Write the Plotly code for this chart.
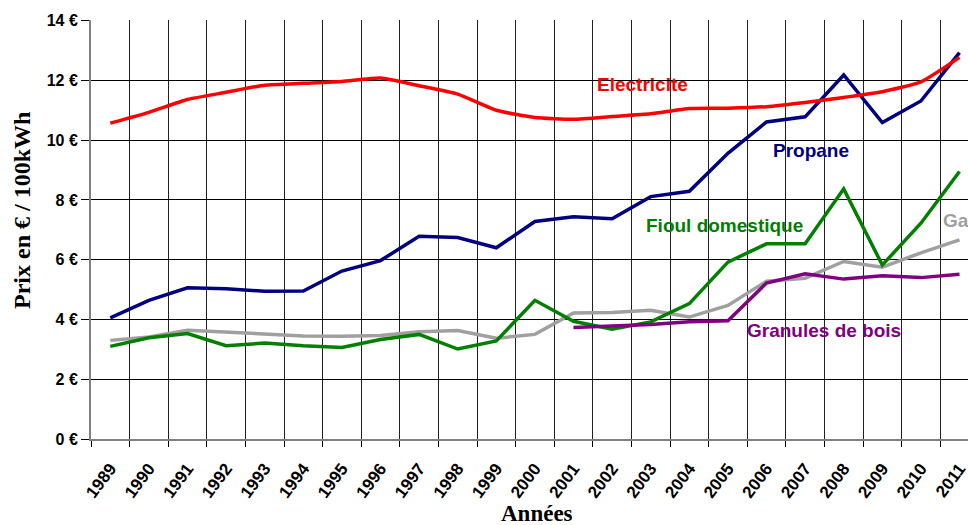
import plotly.graph_objects as go

years = list(range(1989, 2012))
electricite = [10.57, 10.93, 11.36, 11.60, 11.84, 11.90, 11.96, 12.08, 11.82, 11.54, 11.00, 10.76,
               10.70, 10.79, 10.88, 11.06, 11.07, 11.12, 11.26, 11.43, 11.62, 11.95, 12.77]
propane = [4.05, 4.64, 5.06, 5.03, 4.94, 4.95, 5.62, 5.97, 6.78, 6.74, 6.40, 7.28,
           7.44, 7.37, 8.11, 8.29, 9.56, 10.61, 10.78, 12.18, 10.59, 11.31, 12.93]
fioul = [3.10, 3.39, 3.53, 3.12, 3.21, 3.12, 3.06, 3.33, 3.50, 3.01, 3.28, 4.64,
         3.94, 3.67, 3.92, 4.53, 5.92, 6.53, 6.53, 8.37, 5.82, 7.22, 8.95]
gaz = [3.30, 3.41, 3.64, 3.58, 3.50, 3.45, 3.44, 3.46, 3.59, 3.63, 3.37, 3.50,
       4.22, 4.23, 4.31, 4.08, 4.47, 5.28, 5.38, 5.94, 5.75, 6.23, 6.66]
granules = [None] * 12 + [3.73, 3.78, 3.83, 3.92, 3.96, 5.22, 5.53, 5.35, 5.46, 5.40, 5.51]

y_ticks = [0, 2, 4, 6, 8, 10, 12, 14]

series = [
    ("Gaz", gaz, "#A0A0A0", "linear"),
    ("Fioul domestique", fioul, "#008000", "linear"),
    ("Granules de bois", granules, "#800080", "linear"),
    ("Propane", propane, "#000080", "linear"),
    ("Electricite", electricite, "#FF0000", "spline"),
]

fig = go.Figure()
for name, vals, col, shape in series:
    fig.add_trace(go.Scatter(
        x=years, y=vals, mode="lines", name=name,
        line=dict(color=col, width=3.5, shape=shape, smoothing=0.5),
        connectgaps=False, showlegend=False,
    ))

lab_font = dict(family="Liberation Sans, Arial", size=19, weight="bold")
labels = [
    ("Electricite", 2002.80, 11.85, "#FF0000", "center"),
    ("Propane", 2007.16, 9.64, "#000080", "center"),
    ("Fioul domestique", 2004.91, 7.14, "#008000", "center"),
    ("Gaz", 2010.52, 7.30, "#A0A0A0", "left"),
    ("Granules de bois", 2007.48, 3.62, "#800080", "center"),
]
for txt, x, y, col, anc in labels:
    fig.add_annotation(x=x, y=y, xref="x", yref="y", text=txt, showarrow=False,
                       xanchor=anc, yanchor="middle", font=dict(color=col, **lab_font))

fig.add_annotation(x=(22 - 91) / 877, y=(439 - 211) / 419, xref="paper", yref="paper",
                   text="Prix en € / 100kWh", textangle=-90, showarrow=False,
                   xanchor="center", yanchor="middle",
                   font=dict(family="Liberation Serif, Times New Roman", size=24,
                             weight="bold", color="black"))
fig.add_annotation(x=(537 - 91) / 877, y=(439 - 513.3) / 419, xref="paper", yref="paper",
                   text="Années", showarrow=False, xanchor="center", yanchor="middle",
                   font=dict(family="Liberation Serif, Times New Roman", size=23,
                             weight="bold", color="black"))

xtick_font = dict(family="Liberation Sans, Arial", size=17, weight="bold", color="black")
ytick_font = dict(family="Liberation Sans, Arial", size=16, weight="bold", color="black")

fig.update_layout(
    width=968, height=525,
    margin=dict(l=91, r=0, t=20, b=86),
    paper_bgcolor="white", plot_bgcolor="white",
    xaxis=dict(
        range=[1988.5, 2011.22],
        tickmode="array", tickvals=years, ticktext=[str(y) for y in years],
        tickangle=-53, tickfont=xtick_font,
        ticks="outside", ticklen=6, tickcolor="rgba(0,0,0,0)",
        ticklabelstandoff=5, ticklabeloverflow="allow",
        showgrid=False, zeroline=False,
        showline=True, linecolor="#808080", linewidth=2,
        minor=dict(tick0=1988.5, dtick=1, ticks="outside", ticklen=6, tickcolor="black",
                   showgrid=True, gridcolor="#202020", gridwidth=1),
    ),
    yaxis=dict(
        range=[0, 14.02],
        tickmode="array", tickvals=y_ticks, ticktext=[f"{v} €" for v in y_ticks],
        tickfont=ytick_font,
        ticks="outside", ticklen=8, tickcolor="black",
        showgrid=True, gridcolor="black", gridwidth=1,
        zeroline=False,
        showline=True, linecolor="#808080", linewidth=2,
    ),
)

fig.write_html("out.html", config={"displayModeBar": False},
               post_script="document.body.style.margin='0';document.body.style.overflow='hidden';")
